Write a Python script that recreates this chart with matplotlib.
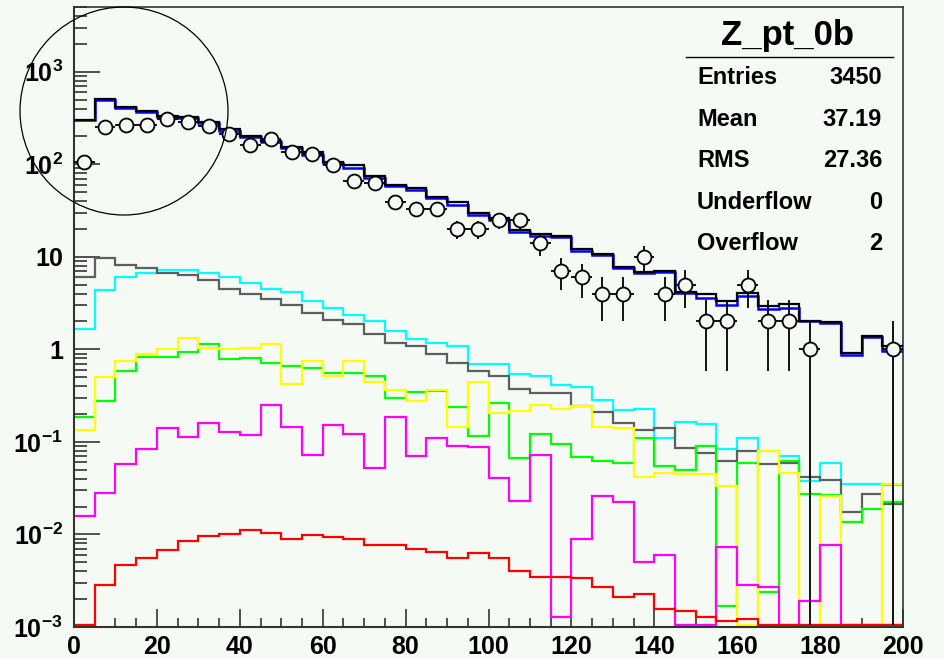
import numpy as np
import matplotlib.pyplot as plt
from matplotlib.patches import Ellipse
from matplotlib.ticker import MultipleLocator, LogLocator, NullFormatter, FuncFormatter

plt.rcParams['font.family'] = ['Liberation Sans', 'DejaVu Sans']
plt.rcParams['font.weight'] = 'bold'
plt.rcParams['mathtext.fontset'] = 'custom'
plt.rcParams['mathtext.rm'] = 'Liberation Sans:bold'
plt.rcParams['mathtext.it'] = 'Liberation Sans:bold'
plt.rcParams['mathtext.bf'] = 'Liberation Sans:bold'

# Z pt, 5 GeV bins from 0 to 200
edges = np.arange(0, 205, 5)

total_black = [302, 508, 413, 374, 335, 322, 284, 240, 203, 180, 152, 134, 106, 99, 74, 60,
               55, 44.5, 38.7, 30, 26.4, 19.5, 17.6, 16.9, 12.1, 10.7, 7.8, 6.9, 7.1, 4.2,
               4.0, 3.33, 4.04, 2.94, 3.07, 2.03, 1.98, 0.92, 1.39, 1.09]
total_blue = [302, 497, 405, 368, 325, 316, 276, 228, 198, 175, 148, 126, 102, 91, 71, 58,
              53, 43, 36, 28.4, 24.9, 18.6, 16.6, 16.2, 11.6, 10.4, 7.5, 6.6, 6.9, 4.07,
              3.6, 3.0, 3.78, 2.71, 2.83, 2.0, 1.95, 0.86, 1.36, 0.96]
gray = [6.1, 9.7, 8.2, 7.5, 6.7, 6.3, 5.6, 4.5, 4.0, 3.5, 3.0, 2.5, 2.1, 1.86, 1.45, 1.18,
        1.09, 0.88, 0.72, 0.58, 0.51, 0.375, 0.334, 0.334, 0.244, 0.21, 0.161, 0.136, 0.142,
        0.086, 0.076, 0.062, 0.079, 0.057, 0.059, 0.0415, 0.039, 0.0174, 0.0274, 0.0214]
cyan = [1.65, 4.4, 6.1, 6.65, 7.2, 7.2, 6.65, 6.1, 5.2, 4.5, 4.2, 3.3, 2.78, 2.36, 2.0, 1.58,
        1.28, 1.18, 1.09, 0.70, 0.70, 0.545, 0.52, 0.41, 0.39, 0.283, 0.22, 0.228, 0.109,
        0.165, 0.157, 0.083, 0.111, 0.079, 0.070, 0.038, 0.059, 0.0352, 0.0352, 0.034]
yellow = [0.134, 0.50, 0.75, 0.88, 1.0, 1.34, 1.04, 1.0, 1.04, 1.13, 0.425, 0.75, 0.52, 0.75,
          0.443, 0.36, 0.28, 0.36, 0.146, 0.443, 0.206, 0.215, 0.248, 0.224, 0.244, 0.146,
          0.142, 0.0415, 0.046, 0.045, 0.045, 0.0337, 0, 0.079, 0.046, 0, 0.0263, 0, 0, 0.0352]
green = [0.187, 0.28, 0.58, 0.83, 0.83, 0.94, 1.13, 0.79, 0.81, 0.72, 0.66, 0.63, 0.55, 0.55,
         0.52, 0.295, 0.35, 0.355, 0.24, 0.115, 0.26, 0.067, 0.123, 0.096, 0.068, 0.062, 0.059,
         0.111, 0.0546, 0.050, 0.090, 0.0017, 0.059, 0.0024, 0.062, 0.0274, 0.0265, 0.0135,
         0.0189, 0.0223]
magenta = [0.016, 0.028, 0.057, 0.083, 0.142, 0.113, 0.16, 0.129, 0.118, 0.25, 0.146, 0.072,
           0.153, 0.123, 0.052, 0.187, 0.070, 0.111, 0.090, 0.087, 0.041, 0.0228, 0.073,
           0.00127, 0.009, 0.0263, 0.0223, 0.0051, 0.006, 0, 0, 0.0073, 0.00286, 0.00268, 0,
           0.00189, 0.0076, 0, 0, 0]
red = [0, 0.00286, 0.0047, 0.0056, 0.0068, 0.0084, 0.0096, 0.0100, 0.0111, 0.0104, 0.009,
       0.0098, 0.0094, 0.009, 0.0076, 0.0076, 0.0070, 0.0065, 0.0056, 0.0063, 0.0056, 0.004,
       0.0035, 0.0035, 0.0034, 0.00268, 0.0021, 0.0023, 0.00156, 0.0015, 0.00127, 0.00117,
       0.00122, 0, 0, 0, 0, 0, 0, 0]
data = [107, 255, 266, 266, 308, 284, 261, 212, 163, 187, 134, 129, 99, 66, 62, 39, 33, 33,
        20, 20, 25, 25, 14, 7, 6, 4, 4, 10, 4, 5, 2, 2, 5, 2, 2, 1, 0, 0, 0, 1]

stat_names = ["Entries", "Mean", "RMS", "Underflow", "Overflow"]
stat_values = ["3450", "37.19", "27.36", "0", "2"]

ymin, ymax = 1e-3, 5000
bg = '#f5faf5'
floor = ymin * 1.04   # empty bins drop to the bottom of the frame, like ROOT

fig = plt.figure(figsize=(9.44, 6.59), dpi=100, facecolor=bg)
ax = fig.add_axes([74 / 944, 32 / 659, 829 / 944, 620 / 659])
ax.set_facecolor(bg)

def hist(vals, color, lw=1.6, z=2):
    v = np.maximum(np.array(vals, dtype=float), floor)
    ax.stairs(v, edges, baseline=None, color=color, lw=lw, zorder=z)

hist(cyan, '#00ffff')
hist(gray, '#5f5f5f')
hist(green, '#00ff00')
hist(yellow, '#ffff00')
hist(magenta, '#ff00ff')
hist(red, '#ff0000')
hist(total_blue, '#0000ff', lw=1.8, z=3)
hist(total_black, '#000000', lw=1.6, z=3)

d = np.array(data, dtype=float)
centers = 0.5 * (edges[:-1] + edges[1:])
m = d > 0
err = np.sqrt(d[m])
lo = np.minimum(err, d[m] - floor)
ax.errorbar(centers[m], d[m], xerr=2.5, yerr=[lo, err], fmt='o', ms=10,
            mfc=bg, mec='black', mew=1.3, ecolor='black', elinewidth=1.3,
            capsize=0, zorder=5)

ax.set_yscale('log')
ax.set_xlim(0, 200)
ax.set_ylim(ymin, ymax)

ax.xaxis.set_major_locator(MultipleLocator(20))
ax.xaxis.set_minor_locator(MultipleLocator(5))
ax.yaxis.set_major_locator(LogLocator(base=10, numticks=20))
ax.yaxis.set_minor_locator(LogLocator(base=10, subs=np.arange(2, 10), numticks=20))
ax.yaxis.set_minor_formatter(NullFormatter())

def ylab(v, pos):
    e = int(round(np.log10(v)))
    if e == 0:
        return '1'
    if e == 1:
        return '10'
    return r'$10^{%d}$' % e

ax.yaxis.set_major_formatter(FuncFormatter(ylab))

ax.tick_params(axis='y', which='major', direction='in', length=18.5, width=1.1,
               pad=8, labelsize=18, colors='#222222')
ax.tick_params(axis='y', which='minor', direction='in', length=9.3, width=1.1,
               colors='#222222')
ax.tick_params(axis='x', which='major', direction='in', length=13, width=1.1,
               pad=6, labelsize=18, colors='#222222')
ax.tick_params(axis='x', which='minor', direction='in', length=6.5, width=1.1,
               colors='#222222')
for lab in ax.get_xticklabels() + ax.get_yticklabels():
    lab.set_color('black')

for s in ['left', 'bottom']:
    ax.spines[s].set_linewidth(1.5)
    ax.spines[s].set_color('#333333')
for s in ['top', 'right']:
    ax.spines[s].set_linewidth(1.2)
    ax.spines[s].set_color('#333333')

# stats box
fig.text(788 / 944, 1 - 35 / 659, "Z_pt_0b", ha='center', va='center', fontsize=25)
fig.add_artist(plt.Line2D([686 / 944, 893 / 944], [1 - 57 / 659, 1 - 57 / 659],
                          color='black', lw=1.0))
for i, (n, v) in enumerate(zip(stat_names, stat_values)):
    yy = 1 - (78 + 41.5 * i) / 659
    fig.text(697 / 944, yy, n, ha='left', va='center', fontsize=17)
    fig.text(882 / 944, yy, v, ha='right', va='center', fontsize=17)

# hand-drawn circle around the low-pt region
fig.add_artist(Ellipse((124 / 944, 1 - 111 / 659), 208 / 944, 208 / 659,
                       transform=fig.transFigure, fill=False, color='black', lw=0.9))

fig.savefig('out.png', dpi=100, facecolor=bg)
